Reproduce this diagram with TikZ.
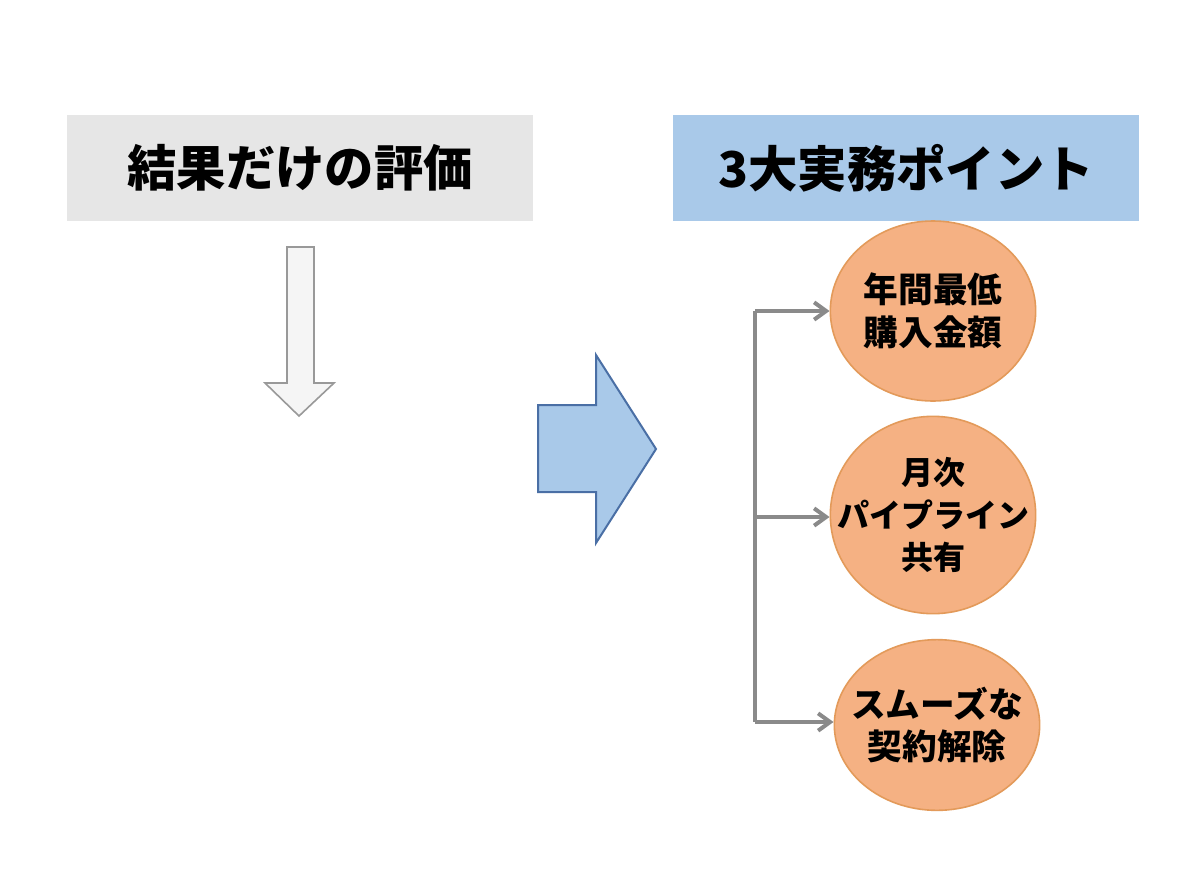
\documentclass[tikz,border=0pt]{standalone}
\usepackage{fontspec}
\newfontfamily\cjk{Noto Sans CJK JP}[BoldFont={* Black}]
\usetikzlibrary{arrows.meta,shapes.geometric}
\definecolor{boxgray}{HTML}{E6E6E6}
\definecolor{boxblue}{HTML}{A9C9E9}
\definecolor{arrblue}{HTML}{4A6FA5}
\definecolor{orfill}{HTML}{F5B183}
\definecolor{orline}{HTML}{E39A5A}
\definecolor{conn}{HTML}{8A8A8A}
\tikzset{
 hdr/.style={minimum width=350pt,minimum height=79pt,inner sep=0pt,font=\cjk\bfseries\fontsize{37}{40}\selectfont},
 pt/.style={ellipse,draw=orline,fill=orfill,line width=1.2pt,minimum width=154pt,minimum height=135pt,align=center,inner sep=-30pt,font=\cjk\bfseries\fontsize{26}{32}\selectfont},
 cn/.style={draw=conn,line width=3pt,-{Straight Barb[length=9pt,width=13pt]}}
}
\begin{document}
\begin{tikzpicture}[x=0.75pt,y=-0.75pt]
\useasboundingbox[fill=white] (0,0) rectangle (1200,896);
\node[hdr,fill=boxgray] (l) at (300,168) {結果だけの評価};
\node[hdr,fill=boxblue] (r) at (906,168) {3大実務ポイント};
\draw[draw=gray!80,fill=gray!8,line width=1.2pt] (287,247)--(314,247)--(314,383)--(334,383)--(299,416)--(265,383)--(287,383)--cycle;
\draw[draw=arrblue,fill=boxblue,line width=1.5pt] (538,405)--(596,405)--(596,355)--(656,449)--(596,543)--(596,492)--(538,492)--cycle;
\node[pt] (c1) at (933,311) {年間最低\\購入金額};
\node[pt,minimum height=148pt,font=\cjk\bfseries\fontsize{24}{32}\selectfont] (c2) at (933,515) {月次\\パイプライン\\共有};
\node[pt,minimum height=128pt] (c3) at (937,725) {スムーズな\\契約解除};
\coordinate (t) at (755,311);
\coordinate (m) at (755,517);
\coordinate (b) at (755,722);
\draw[conn,line width=3pt] (t)--(b);
\draw[cn] (t)--(c1.west |- t);
\draw[cn] (m)--(c2.west |- m);
\draw[cn] (b)--(c3.west |- b);
\end{tikzpicture}
\end{document}
